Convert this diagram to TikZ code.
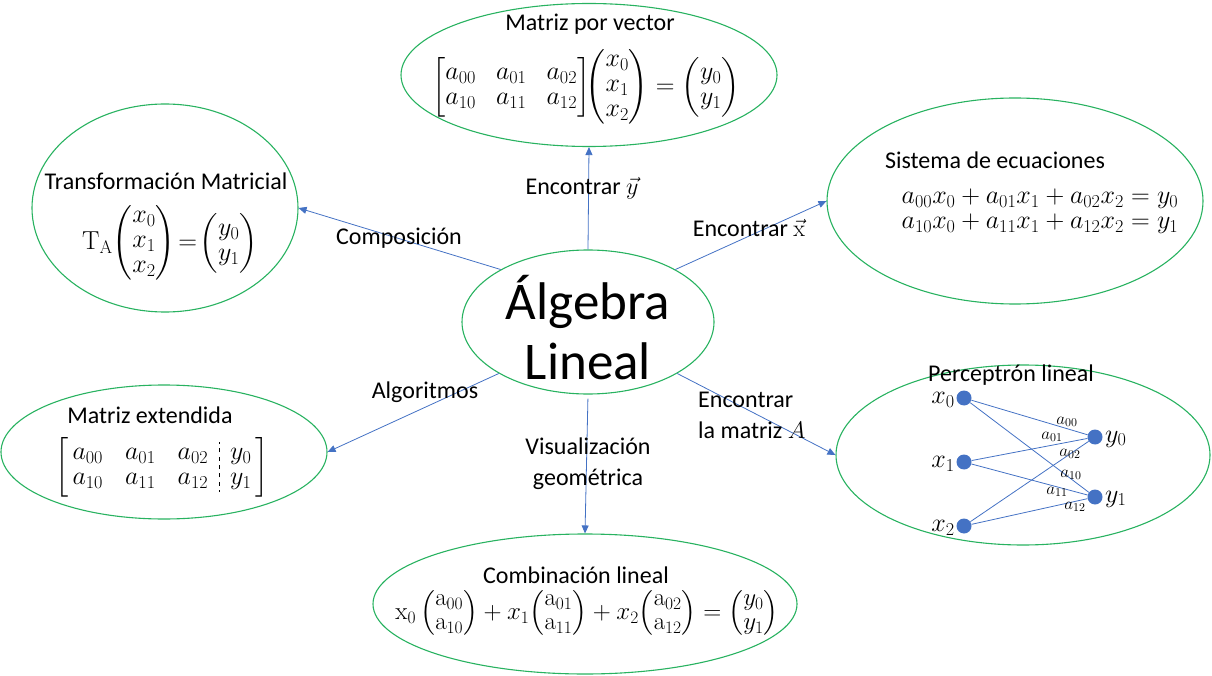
\RequirePackage{fix-cm}
\documentclass[tikz,border=0pt]{standalone}
\usepackage{amsmath}
\usepackage{arydshln}
\usepackage[no-math]{fontspec}
\setmainfont{Carlito}
\usetikzlibrary{shapes.geometric,arrows.meta}
\definecolor{bubgreen}{RGB}{40,178,96}
\definecolor{arrblue}{RGB}{68,114,196}
\tikzset{
  bub/.style={ellipse, draw=bubgreen, line width=1.1pt, inner sep=0pt},
  arr/.style={draw=arrblue, line width=0.8pt, -{Triangle[length=8pt,width=7pt]}},
  lbl/.style={font=\fontsize{24}{31}\selectfont, inner sep=0pt, align=center},
  eqn/.style={font=\fontsize{26}{25}\selectfont, inner sep=0pt},
  wgt/.style={font=\fontsize{17}{18}\selectfont, inner sep=0pt},
  pdot/.style={circle, fill=arrblue, minimum size=15pt, inner sep=0pt},
  pedge/.style={draw=arrblue, line width=0.8pt}
}
\begin{document}
\begin{tikzpicture}[x=1pt,y=-1pt]
\useasboundingbox (0,0) rectangle (1212,676);
% bubbles
\node[bub, minimum width=252pt, minimum height=144pt] (alg) at (588,322) {};
\node[bub, minimum width=376pt, minimum height=143pt] (mv) at (589,75) {};
\node[bub, minimum width=266pt, minimum height=208pt] (tr) at (165,208) {};
\node[bub, minimum width=376pt, minimum height=206pt] (se) at (1015,201) {};
\node[bub, minimum width=326pt, minimum height=134pt] (me) at (164,452) {};
\node[bub, minimum width=374pt, minimum height=180pt] (pl) at (1023,455) {};
\node[bub, minimum width=424pt, minimum height=140pt] (cl) at (585,604) {};
% center text
\node[inner sep=0pt, align=center, font=\fontsize{53}{60}\selectfont] (algt) at (588,328) {Álgebra\\Lineal};
% arrows
\draw[arr] (alg.north) -- (mv.south);
\draw[arr] (alg.149) -- (tr.east);
\draw[arr] (alg.31) -- (se.west);
\draw[arr] (alg.210) -- (me.east);
\draw[arr] (alg.-30) -- (pl.west);
\draw[arr, shorten <=4pt] (alg.south) -- (cl.north);
% connector labels
\node[lbl] (l1) at (582,188) {Encontrar $\vec{y}$};
\node[lbl] (l2) at (399,238) {Composición};
\node[lbl] (l3) at (749,228) {Encontrar $\vec{\mathrm{x}}$};
\node[lbl] (l4) at (425,392) {Algoritmos};
\node[lbl, align=left, anchor=west] (l5) at (698,415) {Encontrar\\la matriz $A$};
\node[lbl] (l6) at (588,464) {Visualización\\geométrica};
% titles
\node[lbl] (t1) at (590,24) {Matriz por vector};
\node[lbl] (t2) at (166,181) {Transformación Matricial};
\node[lbl] (t3) at (995,160) {Sistema de ecuaciones};
\node[lbl] (t4) at (150,415) {Matriz extendida};
\node[lbl] (t5) at (1011,375) {Perceptrón lineal};
\node[lbl] (t6) at (576,575) {Combinación lineal};
% equations
\node[eqn] (e1) at (586,87) {$\arraycolsep=10pt\begin{bmatrix}a_{00}&a_{01}&a_{02}\\a_{10}&a_{11}&a_{12}\end{bmatrix}\!\!\begin{pmatrix}x_0\\x_1\\x_2\end{pmatrix}=\begin{pmatrix}y_0\\y_1\end{pmatrix}$};
\node[eqn] (e2) at (170,243) {$\mathrm{T}_{\mathrm{A}}\!\begin{pmatrix}x_0\\x_1\\x_2\end{pmatrix}\!=\!\begin{pmatrix}y_0\\y_1\end{pmatrix}$};
\node[eqn] (e3) at (1040,211) {$\begin{array}{@{}l@{}}a_{00}x_0+a_{01}x_1+a_{02}x_2=y_0\\ a_{10}x_0+a_{11}x_1+a_{12}x_2=y_1\end{array}$};
\node[eqn] (e4) at (162,467) {$\arraycolsep=11pt\left[\begin{array}{@{\,}ccc:c@{\,}}a_{00}&a_{01}&a_{02}&y_0\\a_{10}&a_{11}&a_{12}&y_1\end{array}\right]$};
\node[eqn, font=\fontsize{25}{24}\selectfont] (e5) at (587,613) {$\mathrm{x}_0\begin{pmatrix}\mathrm{a}_{00}\\\mathrm{a}_{10}\end{pmatrix}+x_1\!\begin{pmatrix}\mathrm{a}_{01}\\\mathrm{a}_{11}\end{pmatrix}+x_2\!\begin{pmatrix}\mathrm{a}_{02}\\\mathrm{a}_{12}\end{pmatrix}=\begin{pmatrix}y_0\\y_1\end{pmatrix}$};
% perceptron
\node[pdot] (x0) at (964,398) {};
\node[pdot] (x1) at (964,462) {};
\node[pdot] (x2) at (964,526) {};
\node[pdot] (y0) at (1095,437) {};
\node[pdot] (y1) at (1095,497) {};
\node[eqn, anchor=east] (lx0) at (955,400) {$x_0$};
\node[eqn, anchor=east] (lx1) at (955,464) {$x_1$};
\node[eqn, anchor=east] (lx2) at (955,528) {$x_2$};
\node[eqn, anchor=west] (ly0) at (1105,439) {$y_0$};
\node[eqn, anchor=west] (ly1) at (1105,499) {$y_1$};
\draw[pedge] (x0) -- (y0);
\draw[pedge] (x0) -- (y1);
\draw[pedge] (x1) -- (y0);
\draw[pedge] (x1) -- (y1);
\draw[pedge] (x2) -- (y0);
\draw[pedge] (x2) -- (y1);
\node[wgt] (w00) at (1067,422) {$a_{00}$};
\node[wgt] (w01) at (1052,437) {$a_{01}$};
\node[wgt] (w02) at (1070,454) {$a_{02}$};
\node[wgt] (w10) at (1071,475) {$a_{10}$};
\node[wgt] (w11) at (1057,492) {$a_{11}$};
\node[wgt] (w12) at (1075,507) {$a_{12}$};
\end{tikzpicture}
\end{document}
